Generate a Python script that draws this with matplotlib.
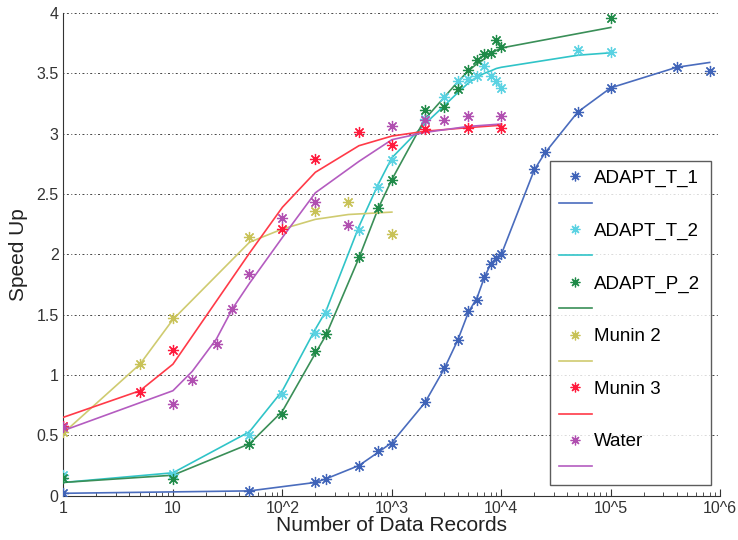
import matplotlib
matplotlib.use('Agg')
import matplotlib.pyplot as plt
from matplotlib.lines import Line2D
from matplotlib.ticker import FixedLocator, FixedFormatter, LogLocator, NullFormatter

plt.rcParams['font.family'] = ['Liberation Sans', 'DejaVu Sans']

names = ['ADAPT_T_1', 'ADAPT_T_2', 'ADAPT_P_2', 'Munin 2', 'Munin 3', 'Water']
colors = ['#3f63b8', '#5ad2e2', '#1f8a48', '#c8c257', '#ff1a3c', '#b04fb0']
line_colors = ['#4a6cbd', '#30c4c8', '#3a8f58', '#cfcb70', '#ff3a48', '#b45cc0']

# ADAPT_T_1
t1_x = [1, 50, 200, 250, 500, 750, 1000, 2000, 3000, 4000, 5000, 6000, 7000, 8000, 9000, 10000,
        20000, 25000, 50000, 100000, 400000, 800000]
t1_y = [0.02, 0.04, 0.11, 0.14, 0.25, 0.37, 0.43, 0.78, 1.06, 1.29, 1.53, 1.62, 1.81, 1.92, 1.97, 2.0,
        2.71, 2.85, 3.18, 3.38, 3.55, 3.52]
t1_fit = [0.02, 0.04, 0.11, 0.14, 0.25, 0.36, 0.44, 0.77, 1.05, 1.29, 1.52, 1.64, 1.81, 1.92, 1.97, 2.0,
          2.70, 2.84, 3.18, 3.38, 3.55, 3.59]

# ADAPT_T_2
t2_x = [1, 10, 50, 100, 200, 250, 500, 750, 1000, 2000, 3000, 4000, 5000, 6000, 7000, 8000, 9000, 10000,
        50000, 100000]
t2_y = [0.17, 0.18, 0.50, 0.84, 1.35, 1.51, 2.20, 2.56, 2.78, 3.12, 3.30, 3.44, 3.45, 3.48, 3.56, 3.48, 3.44, 3.38,
        3.69, 3.68]
t2_fit = [0.11, 0.19, 0.53, 0.87, 1.38, 1.53, 2.23, 2.58, 2.80, 3.08, 3.23, 3.34, 3.42, 3.47, 3.50, 3.52, 3.54, 3.55,
          3.65, 3.67]

# ADAPT_P_2
p2_x = [1, 10, 50, 100, 200, 250, 500, 750, 1000, 2000, 3000, 4000, 5000, 6000, 7000, 8000, 9000, 10000, 100000]
p2_y = [0.15, 0.14, 0.43, 0.68, 1.20, 1.34, 1.98, 2.38, 2.62, 3.20, 3.22, 3.37, 3.53, 3.61, 3.66, 3.67, 3.78, 3.72, 3.96]
p2_fit = [0.11, 0.17, 0.43, 0.70, 1.18, 1.33, 1.97, 2.38, 2.62, 3.12, 3.30, 3.43, 3.52, 3.58, 3.62, 3.66, 3.69, 3.71, 3.88]

# Munin 2
m2_x = [1, 5, 10, 50, 200, 400, 1000]
m2_y = [0.53, 1.09, 1.47, 2.14, 2.36, 2.43, 2.17]
m2_fit_x = [1, 5, 10, 50, 100, 200, 400, 1000]
m2_fit = [0.52, 1.09, 1.46, 2.10, 2.21, 2.29, 2.33, 2.35]

# Munin 3
m3_x = [1, 5, 10, 100, 200, 500, 1000, 2000, 5000, 10000]
m3_y = [0.58, 0.86, 1.21, 2.21, 2.79, 3.01, 2.91, 3.04, 3.05, 3.05]
m3_fit_x = [1, 5, 10, 50, 100, 200, 500, 1000, 2000, 5000, 10000]
m3_fit = [0.65, 0.87, 1.09, 2.01, 2.39, 2.68, 2.90, 2.98, 3.02, 3.05, 3.07]

# Water
w_x = [1, 10, 15, 25, 35, 50, 100, 200, 400, 1000, 2000, 3000, 5000, 10000]
w_y = [0.57, 0.76, 0.96, 1.26, 1.55, 1.84, 2.30, 2.43, 2.24, 3.06, 3.11, 3.11, 3.15, 3.15]
w_fit_x = [1, 10, 15, 25, 35, 50, 100, 200, 500, 1000, 2000, 5000, 10000]
w_fit = [0.54, 0.87, 1.03, 1.30, 1.55, 1.76, 2.14, 2.51, 2.77, 2.95, 3.01, 3.06, 3.08]

series = [
    (t1_x, t1_y, t1_x, t1_fit),
    (t2_x, t2_y, t2_x, t2_fit),
    (p2_x, p2_y, p2_x, p2_fit),
    (m2_x, m2_y, m2_fit_x, m2_fit),
    (m3_x, m3_y, m3_fit_x, m3_fit),
    (w_x, w_y, w_fit_x, w_fit),
]

xtick_vals = [1, 10, 100, 1000, 10000, 100000, 1000000]
xtick_labels = ['1', '10', '10^2', '10^3', '10^4', '10^5', '10^6']
ytick_vals = [0, 0.5, 1, 1.5, 2, 2.5, 3, 3.5, 4]
ytick_labels = ['0', '0.5', '1', '1.5', '2', '2.5', '3', '3.5', '4']

asterisk = (8, 2, 0)


def main():
    fig = plt.figure(figsize=(7.38, 5.4), dpi=100)
    ax = fig.add_axes([0.086, 0.082, 0.89, 0.894])

    handles = []
    labels = []
    for (mx, my, lx, ly), name, c, lc in zip(series, names, colors, line_colors):
        ax.plot(lx, ly, '-', color=lc, lw=1.2, zorder=3)
        ax.plot(mx, my, linestyle='none', marker=asterisk, markersize=8, markeredgewidth=0.9,
                color=c, zorder=4)
        handles.append(Line2D([], [], linestyle='none', marker=asterisk, markersize=7,
                              markeredgewidth=0.9, color=c))
        labels.append(name)
        handles.append(Line2D([], [], color=lc, lw=1.2))
        labels.append(' ')

    ax.set_xscale('log')
    ax.set_xlim(1, 1e6)
    ax.set_ylim(0, 4)

    ax.xaxis.set_major_locator(FixedLocator(xtick_vals))
    ax.xaxis.set_major_formatter(FixedFormatter(xtick_labels))
    ax.xaxis.set_minor_locator(LogLocator(base=10, subs=range(2, 10), numticks=20))
    ax.xaxis.set_minor_formatter(NullFormatter())
    ax.yaxis.set_major_locator(FixedLocator(ytick_vals))
    ax.yaxis.set_major_formatter(FixedFormatter(ytick_labels))

    ax.tick_params(which='both', direction='in', labelsize=11.5, colors='#333333')
    ax.tick_params(which='major', length=5)
    ax.tick_params(which='minor', length=3)
    ax.tick_params(axis='y', length=0)

    for side in ['top', 'right']:
        ax.spines[side].set_visible(False)
    for side in ['left', 'bottom']:
        ax.spines[side].set_color('#333333')

    ax.yaxis.grid(True, linestyle=(0, (1, 2.5, 2, 2.5)), color='#444444', lw=0.7)
    ax.set_axisbelow(True)

    ax.set_xlabel('Number of Data Records', fontsize=15, color='#222222', labelpad=0)
    ax.set_ylabel('Speed Up', fontsize=15, color='#222222', labelpad=6)

    leg = ax.legend(handles, labels, loc='upper left', bbox_to_anchor=(0.741, 0.028, 0.245, 0.665),
                    mode='expand', fontsize=13.5, frameon=True, fancybox=False, edgecolor='#333333',
                    handlelength=1.8, labelspacing=0.49, borderpad=0.45, handletextpad=0.1,
                    borderaxespad=0)
    leg.get_frame().set_linewidth(1.0)

    fig.savefig('out.png', dpi=100)


if __name__ == '__main__':
    main()
